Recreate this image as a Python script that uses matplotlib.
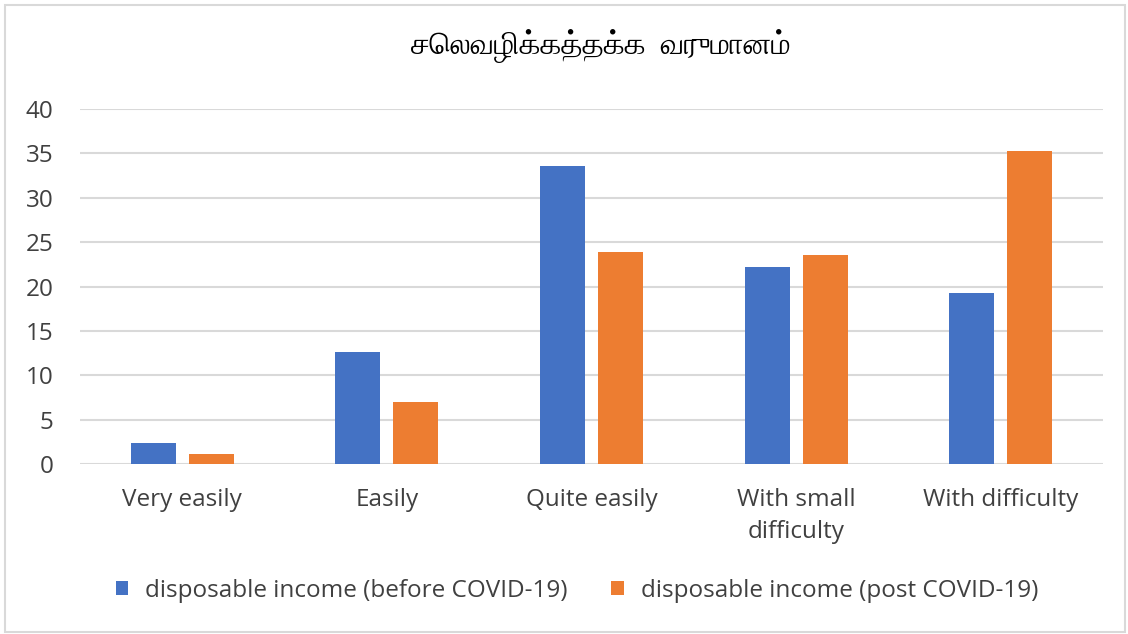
import matplotlib
matplotlib.use("Agg")
import matplotlib.pyplot as plt
from matplotlib.patches import Rectangle
import numpy as np

categories = ["Very easily", "Easily", "Quite easily", "With small\ndifficulty", "With difficulty"]
before = [2.4, 12.6, 33.6, 22.2, 19.3]
post = [1.1, 7.0, 23.9, 23.5, 35.3]
series_names = ["disposable income (before COVID-19)", "disposable income (post COVID-19)"]
title = "செலவழிக்கத்தக்க  வருமானம்"
yticks = [0, 5, 10, 15, 20, 25, 30, 35, 40]

FONT = "Open Sans"
FS = 17.5
W, H = 1128, 634
fig = plt.figure(figsize=(W/100, H/100), dpi=100)
fig.patches.append(Rectangle((5/W, 2/H), (1120/W), (627/H), transform=fig.transFigure,
                             fill=False, edgecolor="#D9D9D9", lw=1.5))
ax = fig.add_axes([80/W, 1-464/H, (1103-80)/W, (464-109)/H])
x = np.arange(len(categories))
bw = 0.22
ax.bar(x - 0.142, before, bw, color="#4472C4", label=series_names[0])
ax.bar(x + 0.142, post, bw, color="#ED7D31", label=series_names[1])
ax.set_xlim(-0.5, 4.5)
ax.set_ylim(0, 40)
ax.set_yticks(yticks)
ax.grid(axis="y", color="#D9D9D9", lw=1.5)
ax.set_axisbelow(True)
for s in ax.spines.values():
    s.set_visible(False)
ax.tick_params(axis="x", length=0, labelsize=FS, colors="#404040", pad=17)
ax.tick_params(axis="y", length=0, labelsize=FS, colors="#404040", pad=19)
ax.set_xticks(x)
ax.set_xticklabels(categories, fontfamily=FONT, linespacing=1.45)
for t in ax.get_yticklabels():
    t.set_fontfamily(FONT)
fig.text(601/W, 1-46/H, title, ha="center", va="center", fontsize=22,
         family=["FreeSerif", "DejaVu Sans"], color="#000000")
leg = fig.legend(loc="center", bbox_to_anchor=(577/W, 1-591/H), ncol=2, frameon=False,
                 prop={"family": FONT, "size": FS}, handlelength=0.5, handleheight=0.5,
                 handletextpad=0.7, columnspacing=1.8, labelcolor="#404040")
fig.savefig("out.png", dpi=100)
